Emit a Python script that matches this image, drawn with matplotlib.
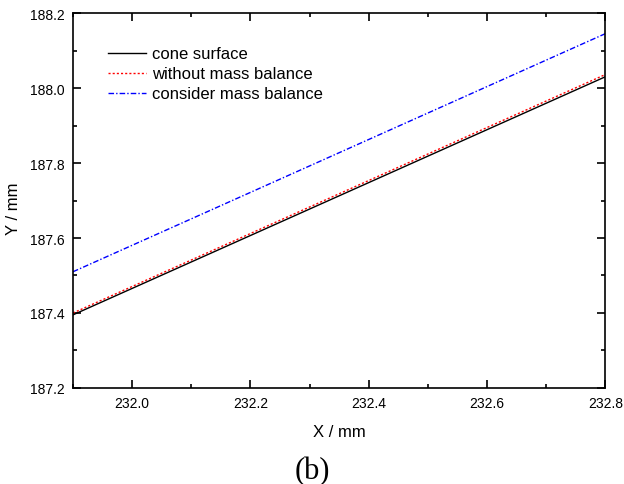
import matplotlib.pyplot as plt
from matplotlib.ticker import MultipleLocator, FormatStrFormatter

# data (straight lines, end points)
x_mm = [231.9, 232.8]
cone_surface = [187.395, 188.030]
without_mass = [187.400, 188.036]
consider_mass = [187.510, 188.145]

plt.rcParams['font.family'] = ['Liberation Sans', 'DejaVu Sans']

fig = plt.figure(figsize=(6.24, 4.85), dpi=100)
ax = fig.add_axes([0.117, 0.198, 0.853, 0.773])

ax.plot(x_mm, cone_surface, color='black', linewidth=1.0, label='cone surface')
ax.plot(x_mm, without_mass, color='red', linewidth=1.0, linestyle=(0, (1.5, 1.5)),
        label='without mass balance')
ax.plot(x_mm, consider_mass, color='blue', linewidth=1.0, linestyle=(0, (4, 1.5, 1, 1.5)),
        label='consider mass balance')

ax.set_xlim(231.9, 232.8)
ax.set_ylim(187.2, 188.2)
ax.xaxis.set_major_locator(MultipleLocator(0.2))
ax.xaxis.set_minor_locator(MultipleLocator(0.1))
ax.yaxis.set_major_locator(MultipleLocator(0.2))
ax.yaxis.set_minor_locator(MultipleLocator(0.1))
ax.xaxis.set_major_formatter(FormatStrFormatter('%.1f'))
ax.yaxis.set_major_formatter(FormatStrFormatter('%.1f'))

ax.tick_params(which='both', direction='in', top=True, right=True, labelsize=10, width=1.2)
ax.tick_params(which='major', length=6, pad=6)
ax.tick_params(which='minor', length=3)
for s in ax.spines.values():
    s.set_linewidth(1.2)

ax.set_xlabel('X / mm', fontsize=12)
ax.set_ylabel('Y / mm', fontsize=12)
ax.xaxis.set_label_coords(0.5, -0.097)
ax.yaxis.set_label_coords(-0.098, 0.48)

ax.legend(loc='upper left', frameon=False, fontsize=12, handlelength=2.3,
          bbox_to_anchor=(0.066, 0.911), borderpad=0, borderaxespad=0,
          labelspacing=0.3, handletextpad=0.35)

fig.text(0.5, 0.012, '(b)', ha='center', fontsize=22, family=['Liberation Serif', 'DejaVu Serif'])

fig.savefig('out.png', dpi=100)
